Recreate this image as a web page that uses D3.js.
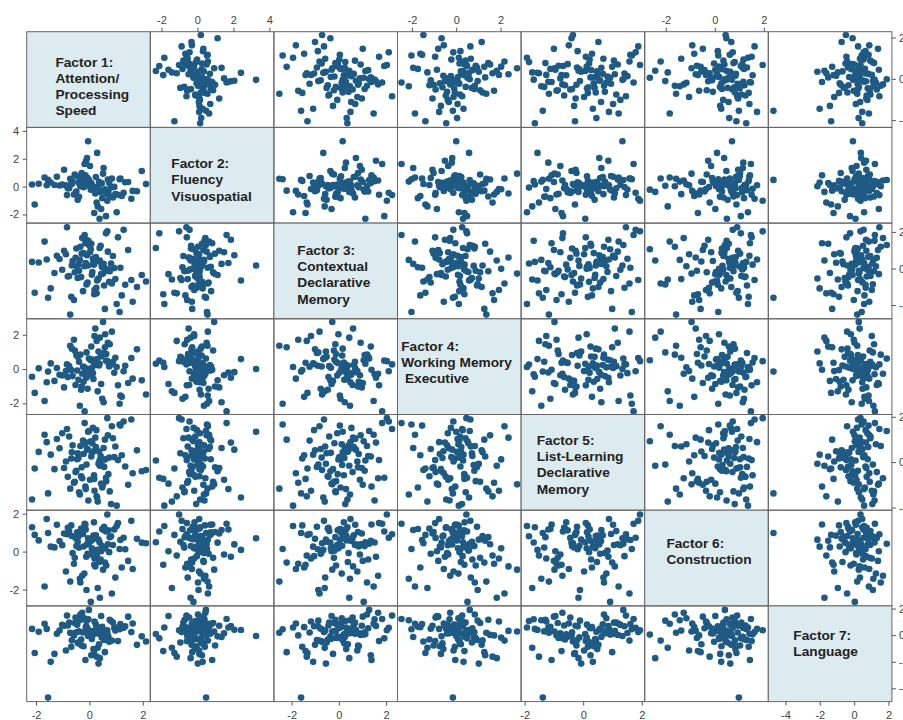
<!DOCTYPE html>
<html>
<head>
<meta charset="utf-8">
<script src="https://cdn.jsdelivr.net/npm/d3@7"></script>
<style>
  body { margin: 0; background: #fff; }
  svg { display: block; font-family: "Liberation Sans", Arial, Helvetica, sans-serif; }
  .tick text { font-size: 11px; fill: #444; }
  .tick line { stroke: #555; }
  .diag-label { font-size: 13.7px; font-weight: bold; fill: #222; white-space: pre; }
</style>
</head>
<body>
<svg id="chart" width="903" height="720"></svg>
<script>
// Factor names shown on the diagonal (one line per array entry)
const factorLabels = [
  ["Factor 1:", "Attention/", "Processing", "Speed"],
  ["Factor 2:", "Fluency", "Visuospatial"],
  ["Factor 3:", "Contextual", "Declarative", "Memory"],
  ["Factor 4:", "Working Memory", " Executive"],
  ["Factor 5:", "List-Learning", "Declarative", "Memory"],
  ["Factor 6:", "Construction"],
  ["Factor 7:", "Language"]
];

// Factor scores, one entry per participant (same order in every array)
const factor1 = [
  -1.55, -0.05, 0.42, -0.31, 0.88, -0.72, 0.15, 1.34, -0.18, 0.63,
  -1.12, 0.27, -0.46, 0.05, 2.12, -0.84, 0.51, -0.22, 1.02, -0.63,
  0.34, -1.68, 0.71, -0.09, 0.19, -0.41, 1.57, -0.27, 0.09, -0.95,
  0.58, -2.15, 0.38, 0.84, -0.52, 0.11, -0.15, 1.21, 0.46, -0.76,
  0.02, 1.78, -0.36, 0.67, -1.31, 0.24, -0.58, 0.93, -0.02, 0.31,
  -1.90, 0.55, -0.12, 0.76, -0.88, 1.13, 0.17, -0.44, 1.45, -0.24,
  0.39, -1.02, 0.62, -0.07, 0.81, -0.68, 0.22, 1.96, -0.34, 0.48,
  -1.45, 0.13, -0.55, 1.07, 0.29, -0.19, -2.05, 0.69, -0.81, 0.36,
  1.28, -0.11, 0.53, -0.39, 0.07, 1.62, -1.22, 0.44, -0.66, 0.26,
  -0.29, 0.97, -0.04, 0.59, -1.60, 0.18, 1.16, -0.49, 0.74, -0.14
];
const factor2 = [
  0.48, 3.26, -0.35, 0.12, -0.78, 0.56, -0.14, 0.31, 1.62, -0.52,
  0.08, -1.15, 0.74, -0.22, 0.19, -0.61, 0.93, -0.05, -1.84, 0.37,
  0.02, 0.65, -0.41, 2.05, -0.18, 0.27, -0.88, 0.44, -0.09, 1.21,
  -0.29, 0.15, -2.31, 0.58, -0.46, 0.05, 0.82, -0.67, 0.23, -0.12,
  1.48, -0.33, 0.36, -1.02, 0.11, 0.69, -0.57, -0.02, 0.47, -1.42,
  0.21, -0.26, 1.86, -0.71, 0.09, 0.53, -0.16, -0.95, 0.33, 0.76,
  -0.38, 0.14, -2.12, 0.62, -0.07, 0.41, -0.49, 1.12, 0.03, -0.83,
  0.29, -0.21, 0.87, -0.59, 2.42, 0.17, -1.28, 0.51, -0.11, 0.35,
  -0.44, 0.06, 1.34, -0.73, 0.25, -0.31, 0.71, -1.61, 0.18, -0.03,
  0.98, -0.54, 0.39, -0.19, 0.10, -1.90, 0.57, -0.36, 0.26, 1.72
];
const factor3 = [
  -1.60, 0.16, 1.24, -0.47, 0.68, -2.52, 0.31, -0.89, 1.83, -0.12,
  0.52, -1.36, 0.09, 1.05, -0.71, 2.25, -0.28, 0.84, -1.94, 0.41,
  -0.55, 1.47, -0.05, 0.72, -1.18, 0.23, -0.63, 1.66, -0.34, 0.97,
  -2.21, 0.36, 1.12, -0.82, 0.58, -0.19, 1.38, -1.47, 0.14, -0.41,
  0.89, -1.01, 0.47, 2.03, -0.25, 0.63, -1.72, 0.02, 1.28, -0.60,
  0.33, -0.93, 1.57, -0.15, 0.78, -2.38, 0.21, -0.52, 1.01, -1.24,
  0.44, -0.07, 1.92, -0.77, 0.27, -1.55, 0.60, -0.36, 1.19, 0.07,
  -1.09, 0.53, -0.21, 1.70, -0.66, 0.12, -1.33, 0.92, -0.44, 0.38,
  2.11, -0.87, 0.25, -0.13, 1.35, -1.82, 0.69, -0.31, 0.16, -1.05,
  0.81, -0.58, 1.51, -0.02, 0.49, -1.41, 0.04, 1.09, -0.73, 0.30
];
const factor4 = [
  -0.15, 0.00, 0.73, -1.21, 0.42, 1.36, -0.58, 0.19, -2.47, 0.88,
  -0.33, 1.64, -0.09, 0.51, -1.48, 0.27, 2.75, -0.74, 0.12, -0.41,
  1.02, -1.86, 0.36, -0.18, 1.93, -0.62, 0.64, -0.27, 0.08, -1.07,
  1.27, -0.45, 0.31, 2.18, -0.93, 0.55, -0.04, -1.62, 0.79, 0.17,
  -0.36, 1.15, -2.14, 0.46, -0.69, 0.23, 1.71, -0.22, 0.61, -1.30,
  0.04, 0.94, -0.51, 1.45, -0.12, -2.02, 0.38, 0.71, -0.81, 0.14,
  1.83, -0.38, 0.49, -1.15, 0.26, -0.06, 2.36, -0.66, 0.84, -1.73,
  0.33, -0.24, 1.08, -0.95, 0.58, 0.10, -1.39, 1.53, -0.47, 0.21,
  -0.13, 0.97, -1.94, 0.43, 1.31, -0.56, 0.06, -0.87, 1.19, 0.29,
  -1.02, 0.66, -0.30, 2.03, -0.77, 0.37, -1.54, 0.82, 0.15, -0.20
];
const factor5 = [
  -1.38, 1.34, 0.27, -0.62, 1.05, -1.17, 0.48, -0.19, 1.72, -0.84,
  0.61, -1.51, 0.13, 0.92, -0.35, 1.46, -0.98, 0.36, -1.92, 0.74,
  -0.07, 1.21, -0.53, 0.55, -1.26, 0.18, 1.88, -0.71, 0.41, -0.26,
  0.99, -1.65, 0.07, 1.58, -0.44, 0.83, -1.08, 0.30, -0.13, 1.13,
  -0.78, 0.52, -1.43, 1.94, -0.31, 0.67, -0.91, 0.22, 1.37, -1.74,
  0.45, -0.21, 0.86, -1.29, 0.03, 1.66, -0.58, 0.39, -1.00, 0.95,
  -0.16, 1.27, -0.69, 0.58, -1.85, 0.16, 1.08, -0.40, 0.71, -1.12,
  0.33, 1.51, -0.87, 0.09, -1.56, 0.79, -0.28, 1.18, -0.65, 0.47,
  1.79, -0.11, 0.62, -1.33, 0.25, -0.49, 1.02, -0.95, 0.43, 1.41,
  -0.23, 0.69, -1.69, 0.12, 0.88, -0.74, 1.61, -0.38, 0.20, -1.19
];
const factor6 = [
  0.98, 0.70, -0.42, 1.21, 0.35, -1.58, 0.84, 0.12, 1.47, -0.73,
  0.56, -0.21, 1.02, -2.65, 0.44, 0.91, -0.95, 0.27, 1.35, -0.08,
  0.63, -1.84, 1.12, 0.38, -0.36, 0.79, 1.62, -1.27, 0.18, 0.95,
  -0.58, 1.28, 0.49, -2.21, 0.72, 0.05, 1.43, -0.84, 0.31, 1.08,
  -0.15, 0.67, -1.43, 1.95, 0.22, 0.86, -0.64, 1.17, 0.41, -1.92,
  0.59, 1.31, -0.27, 0.76, -1.05, 0.14, 1.54, 0.52, -0.49, 0.93,
  -2.43, 0.34, 1.06, -0.11, 0.81, 1.38, -0.78, 0.47, -1.63, 1.19,
  0.26, 0.65, -0.33, 1.50, 0.09, -1.16, 0.88, 0.39, 1.25, -0.55,
  0.73, -2.02, 1.14, 0.21, 0.57, -0.92, 1.41, 0.02, 0.82, -0.24,
  1.03, -1.37, 0.48, 0.17, 1.72, -0.69, 0.61, 0.29, -0.03, 1.16
];
const factor7 = [
  -4.70, -0.07, 0.52, -0.33, 0.94, 0.18, -1.05, 0.66, 1.21, -0.21,
  0.35, -1.62, 0.79, 0.04, -0.48, 1.47, 0.27, -0.84, 0.58, 0.12,
  -2.14, 0.86, -0.12, 0.41, 1.03, -0.62, 0.23, 1.68, -0.29, 0.71,
  -1.28, 0.47, 0.08, -0.41, 1.32, 0.31, -1.87, 0.60, -0.17, 0.95,
  0.14, -0.73, 1.12, 0.37, -1.41, 0.82, -0.02, 0.54, 1.90, -0.95,
  0.26, -0.36, 0.69, 1.16, -1.16, 0.44, 0.06, -0.55, 1.39, 0.20,
  -1.73, 0.77, -0.24, 0.49, 1.06, -0.88, 0.32, -0.09, 1.55, 0.63,
  -2.01, 0.16, 0.91, -0.45, 0.39, 1.27, -1.34, 0.02, 0.73, -0.68,
  0.55, 1.09, -0.14, 0.28, -1.51, 0.88, 0.10, 1.44, -0.39, 0.67,
  -0.78, 0.34, 1.19, -0.19, 0.47, -1.20, 0.84, 0.22, -0.50, 0.58
];

// Axis limits and tick marks per factor
const factorLimits = [
  [-2.35, 2.28], [-2.62, 4.25], [-2.75, 2.48], [-2.65, 2.93],
  [-2.12, 2.10], [-2.86, 2.18], [-5.00, 2.20]
];
const factorTicks = [
  [-2, 0, 2], [-2, 0, 2, 4], [-2, 0, 2], [-2, 0, 2],
  [-2, 0, 2], [-2, 0, 2], [-4, -2, 0, 2]
];

const factorValues = [factor1, factor2, factor3, factor4, factor5, factor6, factor7];

// ---- layout ----
const gridLeft = 26.7, gridTop = 31.7, cellW = 123.6, cellH = 95.7;
const nF = factorValues.length;
const dotColor = "#1f5a84";
const diagFill = "#dcebf0";
const frameColor = "#666";
// label position inside each diagonal cell: [x, first baseline]
const labelPos = [[28.7, 35], [21, 41], [23.4, 32.2], [3.7, 32.4], [15.6, 30.7], [21.7, 37.7], [25, 34]];
const lineGap = 16.1;

const svg = d3.select("#chart");

const xScales = factorLimits.map(d => d3.scaleLinear().domain(d).range([0, cellW]));
const yScales = factorLimits.map(d => d3.scaleLinear().domain(d).range([cellH, 0]));

const nObs = factor1.length;

for (let i = 0; i < nF; i++) {
  for (let j = 0; j < nF; j++) {
    const cell = svg.append("g")
      .attr("transform", `translate(${gridLeft + j * cellW},${gridTop + i * cellH})`);

    if (i === j) {
      cell.append("rect")
        .attr("width", cellW).attr("height", cellH)
        .attr("fill", diagFill);
      const [lx, ly] = labelPos[i];
      cell.append("g").selectAll("text")
        .data(factorLabels[i])
        .join("text")
        .attr("class", "diag-label")
        .attr("x", lx)
        .attr("y", (d, k) => ly + k * lineGap)
        .text(d => d);
    } else {
      const pts = d3.range(nObs).map(k => [factorValues[j][k], factorValues[i][k]]);
      cell.append("g").selectAll("circle")
        .data(pts)
        .join("circle")
        .attr("cx", d => xScales[j](d[0]))
        .attr("cy", d => yScales[i](d[1]))
        .attr("r", 3.3)
        .attr("fill", dotColor);
    }

    cell.append("rect")
      .attr("width", cellW).attr("height", cellH)
      .attr("fill", "none")
      .attr("stroke", frameColor)
      .attr("stroke-width", 1);
  }
}

// ---- axes, alternating sides as in a pairs plot ----
const fmt = d => String(d);
const dropDomain = g => g.select(".domain").remove();

for (let j = 0; j < nF; j++) {
  if (j % 2 === 0) {
    svg.append("g")
      .attr("transform", `translate(${gridLeft + j * cellW},${gridTop + nF * cellH})`)
      .call(d3.axisBottom(xScales[j]).tickValues(factorTicks[j]).tickFormat(fmt).tickSize(4).tickPadding(6))
      .call(dropDomain);
  } else {
    svg.append("g")
      .attr("transform", `translate(${gridLeft + j * cellW},${gridTop})`)
      .call(d3.axisTop(xScales[j]).tickValues(factorTicks[j]).tickFormat(fmt).tickSize(4).tickPadding(3.5))
      .call(dropDomain);
  }
}
for (let i = 0; i < nF; i++) {
  if (i % 2 === 0) {
    svg.append("g")
      .attr("transform", `translate(${gridLeft + nF * cellW},${gridTop + i * cellH})`)
      .call(d3.axisRight(yScales[i]).tickValues(factorTicks[i]).tickFormat(fmt).tickSize(4).tickPadding(3))
      .call(dropDomain);
  } else {
    svg.append("g")
      .attr("transform", `translate(${gridLeft},${gridTop + i * cellH})`)
      .call(d3.axisLeft(yScales[i]).tickValues(factorTicks[i]).tickFormat(fmt).tickSize(4).tickPadding(3.5))
      .call(dropDomain);
  }
}
</script>
</body>
</html>
